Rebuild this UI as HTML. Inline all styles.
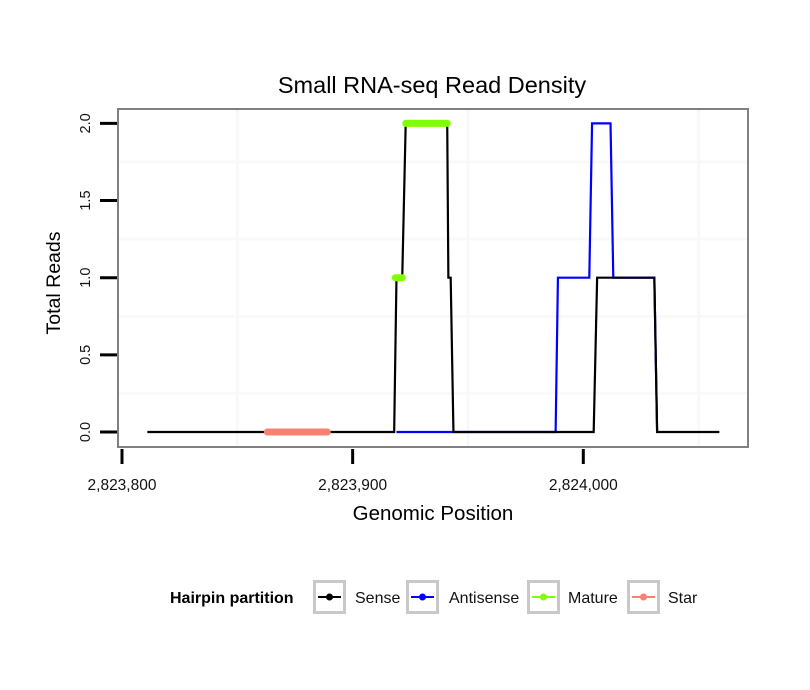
<!DOCTYPE html>
<html><head><meta charset="utf-8"><style>
body{margin:0;background:#fff;}
svg{display:block;font-family:"Liberation Sans",sans-serif;}
</style></head><body>
<svg id="c" width="810" height="690" viewBox="0 0 810 690">
<text x="432" y="93" text-anchor="middle" font-size="23.5">Small RNA-seq Read Density</text>
<g id="grid"></g>
<g id="series"></g>
<rect x="118" y="109" width="630" height="338" fill="none" stroke="#808080" stroke-width="2"/>
<g id="axes"></g>
<text x="433" y="520" text-anchor="middle" font-size="20.5">Genomic Position</text>
<text transform="translate(60,283) rotate(-90)" text-anchor="middle" font-size="19.5">Total Reads</text>
<g id="legend">
<text x="170" y="603" font-size="16" font-weight="bold">Hairpin partition</text>
</g>
</svg>
<script>
const xTicks=[2823800,2823900,2824000];
const xTickLabels=["2,823,800","2,823,900","2,824,000"];
const yTicks=[0,0.5,1,1.5,2];
const yTickLabels=["0.0","0.5","1.0","1.5","2.0"];
const senseX=[2823811,2823918,2823919,2823921.5,2823923,2823941,2823941.5,2823942.5,2823943.7,2824004.5,2824006,2824030.8,2824032,2824059];
const senseY=[0,0,1,1,2,2,1,1,0,0,1,1,0,0];
const antiX=[2823919,2823988,2823989,2824002.6,2824003.8,2824011.8,2824013,2824030.8,2824032];
const antiY=[0,0,1,1,2,2,1,1,0];
const matureX=[[2823918.5,2823921.5],[2823923,2823941]];
const matureY=[1,2];
const starX=[[2823863,2823889]];
const starY=[0];
const legendLabels=["Sense","Antisense","Mature","Star"];
const legendColors=["#000000","#0000ff","#7fff00","#fa8072"];

const NS="http://www.w3.org/2000/svg";
const X=v=>122+(v-2823800)*2.3065;
const Y=v=>432-v*154.3;
function mk(t,a,p){const e=document.createElementNS(NS,t);for(const k in a)e.setAttribute(k,a[k]);p.appendChild(e);return e;}
const grid=document.getElementById('grid'),series=document.getElementById('series'),axes=document.getElementById('axes'),legend=document.getElementById('legend');
mk('rect',{x:118,y:109,width:630,height:338,fill:'#fff'},grid);
[0.25,0.75,1.25,1.75].forEach(v=>{const l=mk('line',{x1:119,x2:747,y1:Y(v),y2:Y(v),stroke:'#f9f9f9','stroke-width':3},grid);

});
[2823850,2823950,2824050].forEach(v=>{const l=mk('line',{x1:X(v),x2:X(v),y1:110,y2:446,stroke:'#f8f8f8','stroke-width':3},grid);

});
function path(xs,ys,col,name){const d=xs.map((x,i)=>(i?'L':'M')+X(x)+' '+Y(ys[i])).join(' ');
const p=mk('path',{d:d,fill:'none',stroke:col,'stroke-width':2.2,'stroke-linejoin':'miter'},series);

}
path(antiX,antiY,'#0000ff','antisense-line');
path(senseX,senseY,'#000000','sense-line');
matureX.forEach((r,i)=>{const l=mk('line',{x1:X(r[0]),x2:X(r[1]),y1:Y(matureY[i]),y2:Y(matureY[i]),stroke:'#7fff00','stroke-width':7,'stroke-linecap':'round'},series);

});
starX.forEach((r,i)=>{const l=mk('line',{x1:X(r[0]),x2:X(r[1]),y1:Y(starY[i]),y2:Y(starY[i]),stroke:'#fa8072','stroke-width':7,'stroke-linecap':'round'},series);

});
yTicks.forEach((v,i)=>{const t=mk('line',{x1:100,x2:117,y1:Y(v),y2:Y(v),stroke:'#000','stroke-width':3},axes);


const tx=mk('text',{transform:`translate(90,${Y(v)}) rotate(-90)`,'text-anchor':'middle','font-size':14.5,fill:'#111'},axes);tx.textContent=yTickLabels[i];

});
xTicks.forEach((v,i)=>{const t=mk('line',{x1:X(v),x2:X(v),y1:449,y2:464,stroke:'#000','stroke-width':3},axes);


const tx=mk('text',{x:X(v),y:490,'text-anchor':'middle','font-size':15.5,fill:'#111'},axes);tx.textContent=xTickLabels[i];

});
const keyX=[313,406,527,627];
const labX=[355,449,568,668];
legendLabels.forEach((lab,i)=>{const g=mk('g',{},legend);


const x=keyX[i];
mk('rect',{x:x+1.5,y:581.5,width:30,height:31,fill:'#fff',stroke:'#c8c8c8','stroke-width':3},g);
mk('line',{x1:x+5,x2:x+28,y1:597,y2:597,stroke:legendColors[i],'stroke-width':2},g);
mk('circle',{cx:x+16.5,cy:597,r:3.5,fill:legendColors[i]},g);
const t=mk('text',{x:labX[i],y:603,'font-size':16,fill:'#111'},g);t.textContent=lab;});
</script>
</body></html>
